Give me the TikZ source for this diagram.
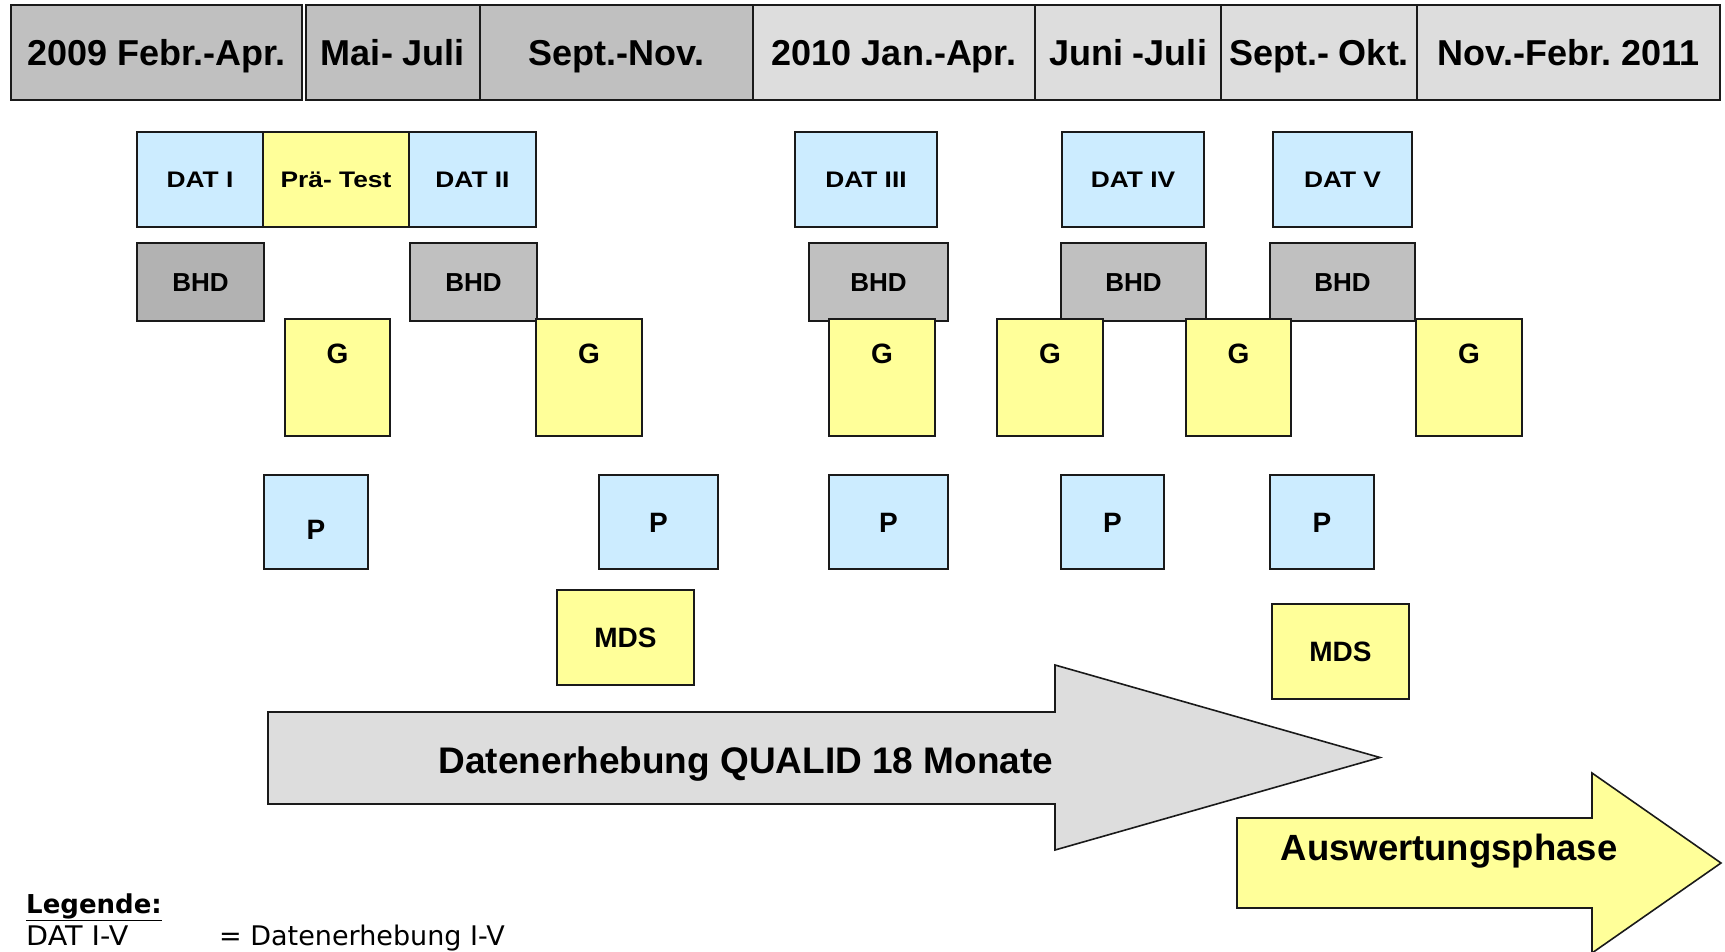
\documentclass[tikz,border=0pt]{standalone}
\usepackage{fontspec}
\usepackage{graphicx}
\setmainfont{Liberation Sans}
\newfontfamily\legfont{DejaVu Sans}
\definecolor{hdrA}{HTML}{C0C0C0}
\definecolor{hdrB}{HTML}{DDDDDD}
\definecolor{bhdA}{HTML}{B2B2B2}
\definecolor{bhdB}{HTML}{C0C0C0}
\definecolor{lblue}{HTML}{CCECFF}
\definecolor{lyellow}{HTML}{FFFF99}
\definecolor{agray}{HTML}{DDDDDD}
\definecolor{edge}{HTML}{1A1A1A}
\begin{document}
\frenchspacing
\begin{tikzpicture}[x=1pt,y=-1pt,
  box/.style={draw=edge, line width=1.6pt, inner sep=0pt, outer sep=0pt, text depth=0pt},
  hdr/.style={box, minimum height=95pt, font={\fontsize{36}{40}\selectfont\bfseries}, text height=25.8pt, text depth=0pt},
  hdra/.style={hdr, fill=hdrA},
  hdrb/.style={hdr, fill=hdrB},
  datbox/.style={box, minimum height=95pt, font={\fontsize{22.5}{27}\selectfont\bfseries}, text height=16pt},
  bhdbox/.style={box, fill=bhdB, minimum height=78pt, font={\fontsize{26}{30}\selectfont\bfseries}, text height=18.6pt},
  gbox/.style={box, fill=lyellow, minimum height=117pt},
  gtxt/.style={inner sep=0pt, anchor=base, font={\fontsize{28}{32}\selectfont\bfseries}},
  pbox/.style={box, fill=lblue, minimum height=94pt, font={\fontsize{28}{32}\selectfont\bfseries}, text height=20pt},
  mdsbox/.style={box, fill=lyellow, minimum height=95pt, font={\fontsize{28}{32}\selectfont\bfseries}, text height=20pt},
  arrowshape/.style={draw=edge, line width=1.6pt, line join=miter},
  arrtxt/.style={inner sep=0pt, anchor=base, font={\fontsize{37}{42}\selectfont\bfseries}},
  legtxt/.style={inner sep=0pt, anchor=base west, font={\fontsize{27}{30}\legfont}},
]
\useasboundingbox (0,0) rectangle (1725,951);

% header
\node[hdra, minimum width=291pt] (h1) at (156.5,52.5) {2009 Febr.-Apr.};
\node[hdra, minimum width=174pt] (h2) at (393,52.5) {Mai- Juli};
\node[hdra, minimum width=273pt] (h3) at (616.5,52.5) {Sept.-Nov.};
\node[hdrb, minimum width=282pt] (h4) at (894,52.5) {2010 Jan.-Apr.};
\node[hdrb, minimum width=186pt] (h5) at (1128,52.5) {Juni -Juli};
\node[hdrb, minimum width=196pt] (h6) at (1319,52.5) {Sept.- Okt.};
\node[hdrb, minimum width=303pt] (h7) at (1568.5,52.5) {Nov.-Febr. 2011};

% DAT row
\node[datbox, fill=lblue, minimum width=126pt] (d1) at (200,179.5) {\scalebox{1.17}[1]{DAT I}};
\node[datbox, fill=lyellow, minimum width=146pt] (pt) at (336,179.5) {\scalebox{1.17}[1]{Prä- Test}};
\node[datbox, fill=lblue, minimum width=127pt] (d2) at (472.5,179.5) {\scalebox{1.17}[1]{DAT II}};
\node[datbox, fill=lblue, minimum width=142pt] (d3) at (866,179.5) {\scalebox{1.17}[1]{DAT III}};
\node[datbox, fill=lblue, minimum width=142pt] (d4) at (1133,179.5) {\scalebox{1.17}[1]{DAT IV}};
\node[datbox, fill=lblue, minimum width=139pt] (d5) at (1342.5,179.5) {\scalebox{1.17}[1]{DAT V}};

% BHD row
\node[bhdbox, fill=bhdA, minimum width=127pt] (b1) at (200.5,282) {BHD};
\node[bhdbox, minimum width=127pt] (b2) at (473.5,282) {BHD};
\node[bhdbox, minimum width=139pt] (b3) at (878.5,282) {BHD};
\node[bhdbox, minimum width=145pt] (b4) at (1133.5,282) {BHD};
\node[bhdbox, minimum width=145pt] (b5) at (1342.5,282) {BHD};

% G row
\node[gbox, minimum width=105pt] (g1) at (337.5,377.5) {};
\node[gbox, minimum width=106pt] (g2) at (589,377.5) {};
\node[gbox, minimum width=106pt] (g3) at (882,377.5) {};
\node[gbox, minimum width=106pt] (g4) at (1050,377.5) {};
\node[gbox, minimum width=105pt] (g5) at (1238.5,377.5) {};
\node[gbox, minimum width=106pt] (g6) at (1469,377.5) {};
\foreach \g in {g1,g2,g3,g4,g5,g6}
  \node[gtxt] (\g t) at ([yshift=-44pt]\g.north) {G};

% P row
\node[pbox, minimum width=104pt, text height=34pt] (p1) at (316,522) {P};
\node[pbox, minimum width=119pt] (p2) at (658.5,522) {P};
\node[pbox, minimum width=119pt] (p3) at (888.5,522) {P};
\node[pbox, minimum width=103pt] (p4) at (1112.5,522) {P};
\node[pbox, minimum width=104pt] (p5) at (1322,522) {P};

% MDS
\node[mdsbox, minimum width=137pt] (m1) at (625.5,637.5) {MDS};
\node[mdsbox, minimum width=137pt] (m2) at (1340.5,651.5) {MDS};

% arrows
\draw[arrowshape, fill=agray] (268,712) -- (1055,712) -- (1055,665) -- (1380,757.5)
  -- (1055,850) -- (1055,804) -- (268,804) -- cycle;
\node[arrtxt] (a1) at (746,773) {Datenerhebung QUALID 18 Monate};
\draw[arrowshape, fill=lyellow] (1237,818) -- (1592,818) -- (1592,773) -- (1721,863)
  -- (1592,953) -- (1592,908) -- (1237,908) -- cycle;
\node[arrtxt, font={\fontsize{36.5}{42}\selectfont\bfseries}] (a2) at (1449,860) {Auswertungsphase};

% legend
\node[legtxt, font={\fontsize{26}{30}\legfont\bfseries}] (leg) at (26,913) {\underline{Legende:}};
\node[legtxt] (l1) at (26,945) {\scalebox{1.06}[1]{DAT I-V}};
\node[legtxt] (l2) at (219,945) {= Datenerhebung I-V};
\end{tikzpicture}
\end{document}
